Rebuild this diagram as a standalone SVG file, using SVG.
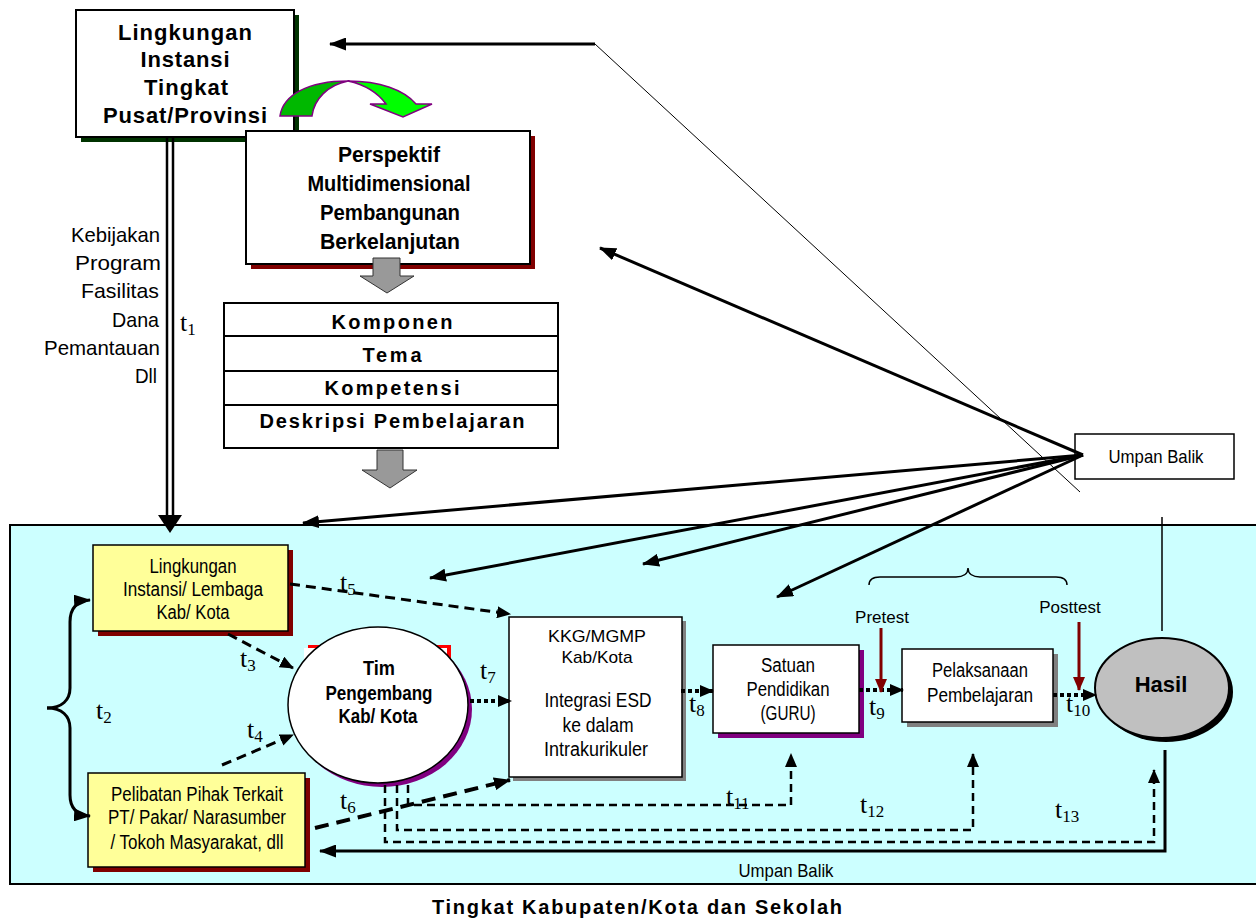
<svg xmlns="http://www.w3.org/2000/svg" width="1256" height="924" viewBox="0 0 1256 924">
<style>
text{font-family:"Liberation Sans",Arial,sans-serif;fill:#000}
.b{font-weight:bold}
.t text{font-family:"Liberation Serif","Times New Roman",serif;font-size:26px}
.t .sub{font-size:17px}
.box{fill:#fff;stroke:#000;stroke-width:2}
.yel{fill:#ffff99;stroke:#000;stroke-width:1.5}
.ln{fill:none;stroke:#000;stroke-width:3}
.thin{fill:none;stroke:#000;stroke-width:1}
.dash{fill:none;stroke:#000;stroke-width:3;stroke-dasharray:10 6}
.dash2{fill:none;stroke:#000;stroke-width:4;stroke-dasharray:14 8}
.dot{fill:none;stroke:#000;stroke-width:4;stroke-dasharray:4 3}
.route{fill:none;stroke:#000;stroke-width:2.5;stroke-dasharray:8 5}
.red{fill:none;stroke:#800000;stroke-width:3}
.grey{fill:#999;stroke:#333;stroke-width:1}
</style>
<defs>
<marker id="ah" viewBox="0 0 17 13" refX="16" refY="6.5" markerWidth="17" markerHeight="13" markerUnits="userSpaceOnUse" orient="auto"><path d="M0,0 L17,6.5 L0,13 Z" fill="#000"/></marker>
<marker id="ahs" viewBox="0 0 14 12" refX="13" refY="6" markerWidth="14" markerHeight="12" markerUnits="userSpaceOnUse" orient="auto"><path d="M0,0 L14,6 L0,12 Z" fill="#000"/></marker>
<marker id="ahr" viewBox="0 0 14 12" refX="13" refY="6" markerWidth="14" markerHeight="12" markerUnits="userSpaceOnUse" orient="auto"><path d="M0,0 L14,6 L0,12 Z" fill="#800000"/></marker>
</defs>

<!-- cyan region -->
<rect x="10" y="525" width="1256" height="359" fill="#ccffff" stroke="#000" stroke-width="2"/>

<g id="node-pusat">
<rect x="81" y="15" width="218" height="127" fill="#003300"/>
<rect x="76" y="10" width="218" height="127" class="box"/>
<g class="b" font-size="22" text-anchor="middle">
<text x="185" y="40" textLength="134">Lingkungan</text>
<text x="185" y="67" textLength="89">Instansi</text>
<text x="186" y="95" textLength="84">Tingkat</text>
<text x="185" y="123" textLength="164">Pusat/Provinsi</text>
</g>
</g>

<g id="green-arrow" stroke="#800080" stroke-width="1.5">
<path d="M280,116 C283,95 308,81 348,81 C328,85 314,99 312,116 Z" fill="#00b800"/>
<path d="M348,81 C380,81 404,90 416,104 L432,104 L403,117 L370,104 L386,104 C378,93 366,85 348,81 Z" fill="#00ff00"/>
</g>

<g id="node-perspektif">
<rect x="251" y="136" width="284" height="133" fill="#800000"/>
<rect x="246" y="131" width="284" height="133" class="box"/>
<g class="b" font-size="22" text-anchor="middle">
<text x="389" y="162" textLength="102" lengthAdjust="spacingAndGlyphs">Perspektif</text>
<text x="389" y="191" textLength="163" lengthAdjust="spacingAndGlyphs">Multidimensional</text>
<text x="390" y="220" textLength="140" lengthAdjust="spacingAndGlyphs">Pembangunan</text>
<text x="390" y="249" textLength="140" lengthAdjust="spacingAndGlyphs">Berkelanjutan</text>
</g>
</g>

<polygon class="grey" points="373,258 400,258 400,276 414,276 387,293 360,276 373,276"/>

<g id="node-komponen">
<rect x="224" y="303" width="334" height="145" class="box"/>
<path d="M224,336 H558 M224,371 H558 M224,405 H558" stroke="#000" stroke-width="2"/>
<g class="b" font-size="20" text-anchor="middle">
<text x="392" y="329" textLength="121">Komponen</text>
<text x="392" y="362" textLength="59">Tema</text>
<text x="392" y="395" textLength="135">Kompetensi</text>
<text x="392" y="428" textLength="265">Deskripsi Pembelajaran</text>
</g>
</g>

<polygon class="grey" points="377,450 403,450 403,470 417,470 390,488 362,470 377,470"/>

<g id="labels-left" font-size="21" text-anchor="end">
<text x="160" y="242" textLength="89" lengthAdjust="spacingAndGlyphs">Kebijakan</text>
<text x="161" y="270" textLength="86" lengthAdjust="spacingAndGlyphs">Program</text>
<text x="159" y="298" textLength="78" lengthAdjust="spacingAndGlyphs">Fasilitas</text>
<text x="159" y="327" textLength="47" lengthAdjust="spacingAndGlyphs">Dana</text>
<text x="160" y="355" textLength="116" lengthAdjust="spacingAndGlyphs">Pemantauan</text>
<text x="157" y="383" textLength="22" lengthAdjust="spacingAndGlyphs">Dll</text>
</g>

<g id="node-umpanbalik">
<rect x="1075" y="434" width="159" height="45" fill="#fff" stroke="#000" stroke-width="1.5"/>
<text x="1156" y="463" font-size="19" text-anchor="middle" textLength="95" lengthAdjust="spacingAndGlyphs">Umpan Balik</text>
</g>

<g id="node-lingkungan-kab">
<rect x="98" y="550" width="195" height="86" fill="#800000"/>
<rect x="93" y="545" width="195" height="86" class="yel"/>
<g font-size="20" text-anchor="middle">
<text x="193" y="573" textLength="87" lengthAdjust="spacingAndGlyphs">Lingkungan</text>
<text x="193" y="596" textLength="140" lengthAdjust="spacingAndGlyphs">Instansi/ Lembaga</text>
<text x="193" y="619" textLength="73" lengthAdjust="spacingAndGlyphs">Kab/ Kota</text>
</g>
</g>

<g id="node-pelibatan">
<rect x="93" y="778" width="217" height="94" fill="#800000"/>
<rect x="88" y="773" width="217" height="94" class="yel"/>
<g font-size="20" text-anchor="middle">
<text x="197" y="801" textLength="172" lengthAdjust="spacingAndGlyphs">Pelibatan Pihak Terkait</text>
<text x="197" y="824" textLength="178" lengthAdjust="spacingAndGlyphs">PT/ Pakar/ Narasumber</text>
<text x="197" y="849" textLength="173" lengthAdjust="spacingAndGlyphs">/ Tokoh Masyarakat, dll</text>
</g>
</g>

<g id="node-tim">
<rect x="308" y="645" width="143" height="60" fill="#ff0000"/>
<rect x="304" y="648" width="143" height="60" fill="#fff"/>
<ellipse cx="382" cy="709" rx="90" ry="78" fill="#800080"/>
<ellipse cx="378" cy="705" rx="90" ry="78" fill="#fff" stroke="#000" stroke-width="1.5"/>
<g class="b" font-size="20" text-anchor="middle">
<text x="379" y="675" textLength="32" lengthAdjust="spacingAndGlyphs">Tim</text>
<text x="379" y="700" textLength="107" lengthAdjust="spacingAndGlyphs">Pengembang</text>
<text x="378" y="723" textLength="79" lengthAdjust="spacingAndGlyphs">Kab/ Kota</text>
</g>
</g>

<g id="node-kkg">
<rect x="513" y="621" width="173" height="160" fill="#808080"/>
<rect x="509" y="617" width="173" height="160" fill="#fff" stroke="#000" stroke-width="1.5"/>
<g text-anchor="middle">
<text x="597" y="642" font-size="17" textLength="98" lengthAdjust="spacingAndGlyphs">KKG/MGMP</text>
<text x="597" y="663" font-size="17" textLength="71" lengthAdjust="spacingAndGlyphs">Kab/Kota</text>
<text x="598" y="707" font-size="20" textLength="107" lengthAdjust="spacingAndGlyphs">Integrasi ESD</text>
<text x="598" y="732" font-size="20" textLength="71" lengthAdjust="spacingAndGlyphs">ke dalam</text>
<text x="596" y="756" font-size="20" textLength="104" lengthAdjust="spacingAndGlyphs">Intrakurikuler</text>
</g>
</g>

<g id="node-satuan">
<rect x="718" y="650" width="146" height="88" fill="#800080"/>
<rect x="713" y="645" width="146" height="88" fill="#fff" stroke="#000" stroke-width="1.5"/>
<g font-size="20" text-anchor="middle">
<text x="788" y="672" textLength="54" lengthAdjust="spacingAndGlyphs">Satuan</text>
<text x="788" y="696" textLength="83" lengthAdjust="spacingAndGlyphs">Pendidikan</text>
<text x="788" y="720" textLength="55" lengthAdjust="spacingAndGlyphs">(GURU)</text>
</g>
</g>

<g id="node-pelaksanaan">
<rect x="907" y="654" width="151" height="73" fill="#808080"/>
<rect x="902" y="649" width="151" height="73" fill="#fff" stroke="#000" stroke-width="1.5"/>
<g font-size="20" text-anchor="middle">
<text x="980" y="677" textLength="96" lengthAdjust="spacingAndGlyphs">Pelaksanaan</text>
<text x="980" y="702" textLength="106" lengthAdjust="spacingAndGlyphs">Pembelajaran</text>
</g>
</g>

<g id="node-hasil">
<ellipse cx="1166" cy="692" rx="67" ry="50" fill="#000"/>
<ellipse cx="1162" cy="688" rx="67" ry="50" fill="#c0c0c0" stroke="#000" stroke-width="2"/>
<text x="1161" y="692" class="b" font-size="22" text-anchor="middle">Hasil</text>
</g>

<g id="labels-test" font-size="17" text-anchor="middle">
<text x="882" y="623">Pretest</text>
<text x="1070" y="613">Posttest</text>
</g>
<path d="M869,585 C869,579 873,577 880,577 H956 C963,577 968,574 968,568 C968,574 973,577 980,577 H1056 C1063,577 1067,579 1067,585" fill="none" stroke="#000" stroke-width="1.5"/>

<g id="connectors">
<path d="M167,137 V518 M173,137 V518" stroke="#000" stroke-width="2.5" fill="none"/>
<polygon points="158,515 182,515 170,533" fill="#000"/>
<path d="M595,44 H330" class="ln" stroke-width="2.5" marker-end="url(#ah)"/>
<path d="M595,44 L1080,492" class="thin"/>
<path d="M1083,455 L600,248" class="ln" marker-end="url(#ah)"/>
<path d="M1083,455 L303,523" class="ln" marker-end="url(#ah)"/>
<path d="M1083,455 L430,578" class="ln" marker-end="url(#ah)"/>
<path d="M1083,455 L643,564" class="ln" marker-end="url(#ah)"/>
<path d="M1083,455 L777,597" class="ln" marker-end="url(#ah)"/>
<path d="M1162,517 V631" stroke="#000" stroke-width="1.5" fill="none"/>
<path d="M47,708 C62,708 70,700 70,688 V622 C70,609 76,601 90,600" class="ln" marker-end="url(#ah)"/>
<path d="M47,708 C62,708 70,716 70,728 V795 C70,807 76,815 90,816" class="ln" marker-end="url(#ah)"/>
<path d="M290,584 L510,614" class="dash" marker-end="url(#ahs)"/>
<path d="M228,634 L293,668" class="dash" marker-end="url(#ahs)"/>
<path d="M222,765 L293,735" class="dash" marker-end="url(#ahs)"/>
<path d="M315,828 L510,780" class="dash2" marker-end="url(#ah)"/>
<path d="M470,701 L511,701" class="dot" marker-end="url(#ahs)"/>
<path d="M681,691 L713,691" class="dot" marker-end="url(#ahs)"/>
<path d="M859,690 L903,690" class="dot" marker-end="url(#ahs)"/>
<path d="M1053,695 L1096,695" class="dot" marker-end="url(#ahs)"/>
<path d="M881,628 V692" class="red" marker-end="url(#ahr)"/>
<path d="M1079,622 V690" class="red" marker-end="url(#ahr)"/>
<path d="M408,785 V805 H791 V754" class="route" marker-end="url(#ahs)"/>
<path d="M397,785 V830 H973 V754" class="route" marker-end="url(#ahs)"/>
<path d="M385,785 V842 H1154 V770" class="route" marker-end="url(#ahs)"/>
<path d="M1165,750 V851 H320" class="ln" stroke-width="2.5" marker-end="url(#ah)"/>
</g>

<g id="t-labels" class="t">
<text x="180" y="331">t<tspan class="sub" dy="4">1</tspan></text>
<text x="96" y="719">t<tspan class="sub" dy="4">2</tspan></text>
<text x="240" y="667">t<tspan class="sub" dy="4">3</tspan></text>
<text x="247" y="738">t<tspan class="sub" dy="4">4</tspan></text>
<text x="340" y="591">t<tspan class="sub" dy="4">5</tspan></text>
<text x="340" y="809">t<tspan class="sub" dy="4">6</tspan></text>
<text x="480" y="679">t<tspan class="sub" dy="4">7</tspan></text>
<text x="689" y="712">t<tspan class="sub" dy="4">8</tspan></text>
<text x="869" y="715">t<tspan class="sub" dy="4">9</tspan></text>
<text x="1066" y="712">t<tspan class="sub" dy="4">10</tspan></text>
<text x="726" y="805">t<tspan class="sub" dy="4">11</tspan></text>
<text x="860" y="813">t<tspan class="sub" dy="4">12</tspan></text>
<text x="1055" y="818">t<tspan class="sub" dy="4">13</tspan></text>
</g>

<text x="786" y="877" font-size="19" text-anchor="middle" textLength="95" lengthAdjust="spacingAndGlyphs">Umpan Balik</text>
<text x="637" y="914" class="b" font-size="20" text-anchor="middle" textLength="410">Tingkat Kabupaten/Kota dan Sekolah</text>
</svg>
